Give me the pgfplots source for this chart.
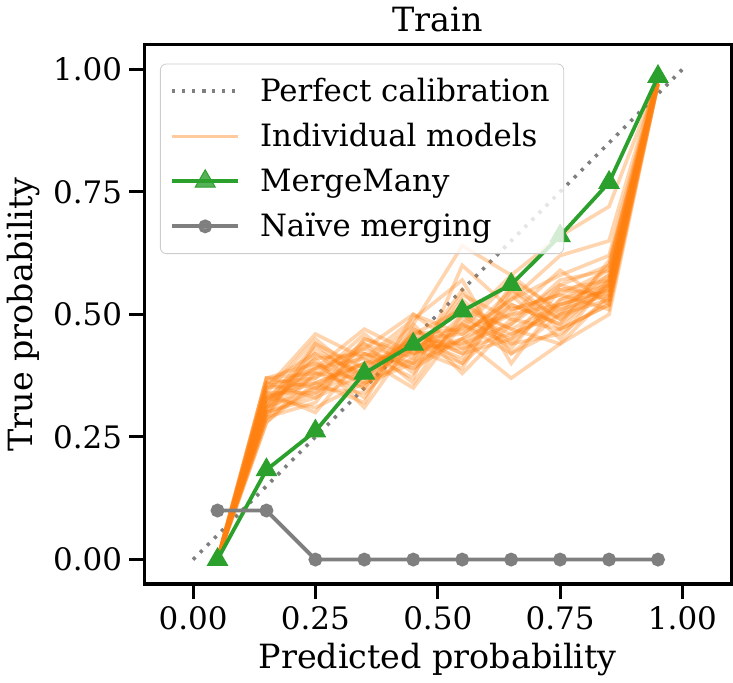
\documentclass[border=0pt]{standalone}
\usepackage{pgfplots}
\pgfplotsset{compat=1.18}
\usepackage{pgfplotstable}
\usepackage{fontspec}
\setmainfont{DejaVu Serif}

\definecolor{mplorange}{HTML}{FF7F0E}
\definecolor{mplgreen}{HTML}{2CA02C}
\definecolor{mplgray}{HTML}{7F7F7F}

% calibration curves of the individual models, one column per model
\pgfplotstableread{
x    m1  m2  m3  m4  m5  m6  m7  m8  m9  m10 m11 m12 m13 m14 m15 m16 m17 m18 m19 m20 m21 m22 m23 m24 m25 m26 m27 m28 m29 m30 m31 m32
0.05 0   0   0   0   0   0   0   0   0   0   0   0   0   0   0   0   0   0   0   0   0   0   0   0   0   0   0   0   0   0   0   0
0.15 .33 .30 .36 .28 .34 .31 .37 .29 .35 .32 .30 .36 .33 .28 .34 .31 .37 .29 .35 .32 .30 .36 .33 .31 .34 .29 .35 .32 .37 .30 .33 .31
0.25 .36 .42 .33 .38 .45 .35 .40 .32 .39 .44 .34 .37 .41 .36 .30 .43 .38 .35 .46 .39 .33 .42 .37 .40 .34 .44 .36 .41 .35 .38 .31 .39
0.35 .40 .38 .44 .35 .37 .42 .33 .45 .43 .36 .39 .46 .31 .40 .42 .37 .44 .34 .41 .47 .38 .35 .43 .36 .45 .39 .32 .42 .40 .37 .36 .41
0.45 .42 .45 .40 .46 .43 .39 .47 .42 .50 .41 .44 .38 .45 .48 .40 .46 .36 .43 .49 .42 .44 .46 .39 .47 .41 .45 .50 .37 .43 .48 .40 .35
0.55 .47 .44 .50 .42 .48 .45 .40 .52 .46 .55 .43 .49 .41 .38 .53 .47 .50 .44 .57 .45 .40 .51 .48 .42 .54 .46 .43 .60 .39 .64 .45 .48
0.65 .50 .48 .46 .52 .44 .55 .49 .47 .53 .42 .51 .45 .56 .48 .44 .57 .43 .52 .40 .50 .54 .47 .58 .45 .49 .53 .46 .51 .55 .58 .37 .42
0.75 .52 .55 .50 .48 .53 .47 .56 .44 .58 .50 .54 .52 .49 .57 .46 .51 .55 .48 .53 .59 .45 .52 .50 .56 .47 .62 .51 .54 .49 .66 .44 .47
0.85 .55 .57 .53 .56 .58 .52 .60 .54 .62 .56 .51 .57 .55 .59 .53 .58 .54 .61 .56 .52 .57 .55 .60 .53 .56 .65 .54 .59 .57 .72 .50 .52
0.95 .98 .97 .99 .98 .98 .97 .99 .98 .99 .98 .97 .98 .99 .98 .97 .98 .99 .98 .98 .97 .98 .99 .98 .98 .97 .99 .98 .98 .99 .98 .97 .98
}\indiv

\begin{document}
\begin{tikzpicture}
\begin{axis}[
    width=294pt, height=270pt, scale only axis,
    xmin=-0.1, xmax=1.1, ymin=-0.05, ymax=1.05,
    xtick={0,0.25,0.5,0.75,1},
    ytick={0,0.25,0.5,0.75,1},
    tick pos=left,
    tick align=outside,
    major tick length=7.5pt,
    tick style={line width=1.5pt, black},
    axis line style={line width=1.6pt},
    /pgf/number format/fixed,
    /pgf/number format/fixed zerofill,
    /pgf/number format/precision=2,
    /pgf/number format/assume math mode=true,
    tick label style={font=\fontsize{15.5}{18}\selectfont},
    label style={font=\fontsize{16.7}{20}\selectfont},
    title style={font=\fontsize{16.7}{20}\selectfont, yshift=-3pt},
    title={Train},
    xlabel={Predicted probability},
    ylabel={True probability},
    legend style={
        at={(0.027,0.965)}, anchor=north west,
        draw=black!20, rounded corners=3pt, fill=white, fill opacity=0.8,
        text opacity=1, font=\fontsize{15.4}{18}\selectfont,
        row sep=5.5pt, inner xsep=5pt, inner ysep=5pt,
        /tikz/every odd column/.append style={column sep=8pt},
    },
    legend cell align=left,
    legend image code/.code={
        \draw[mark repeat=2, mark phase=2, #1]
            plot coordinates {(0pt,0pt) (16.5pt,0pt) (33pt,0pt)};
    },
]

\addplot[mplgray, line width=1.8pt, dash pattern=on 1.6pt off 3.4pt]
    coordinates {(0,0) (1,1)};
\addlegendentry{Perfect calibration}

\addlegendimage{mplorange, opacity=0.4, line width=1.8pt}
\addlegendentry{Individual models}

\pgfplotsinvokeforeach{1,...,32}{
    \addplot[mplorange, opacity=0.33, line width=1.8pt, forget plot]
        table[x=x, y=m#1] {\indiv};
}

\addplot[mplgreen, line width=1.9pt, mark=triangle*, mark size=5.8pt,
    mark options={fill=mplgreen, draw=mplgreen, line width=0.5pt}]
    coordinates {(0.05,0.00) (0.15,0.183) (0.25,0.262) (0.35,0.380) (0.45,0.439)
                 (0.55,0.507) (0.65,0.561) (0.75,0.660) (0.85,0.769) (0.95,0.985)};
\addlegendentry{MergeMany}

\addplot[mplgray, line width=1.9pt, mark=*, mark size=2.5pt,
    mark options={fill=mplgray, draw=mplgray}]
    coordinates {(0.05,0.1) (0.15,0.1) (0.25,0) (0.35,0) (0.45,0)
                 (0.55,0) (0.65,0) (0.75,0) (0.85,0) (0.95,0)};
\addlegendentry{Naïve merging}

\end{axis}
\end{tikzpicture}
\end{document}
